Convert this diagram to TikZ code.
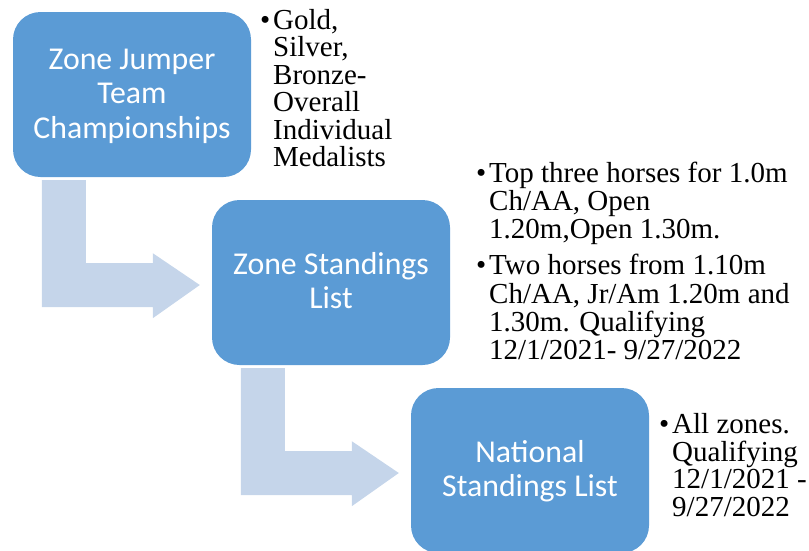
\documentclass[tikz,border=0pt]{standalone}
\usepackage{fontspec}
\setmainfont{Liberation Serif}
\newfontfamily\boxfont{Carlito}
\usetikzlibrary{calc}
\definecolor{boxblue}{HTML}{5B9BD5}
\definecolor{arrowblue}{HTML}{C5D5EA}
\newcommand{\bstrut}{\rule[-8.25pt]{0pt}{34.5pt}}
\newcommand{\lstrut}{\rule{0pt}{21pt}}
\newcommand{\bul}{\llap{•\hspace{3pt}}}
\newcommand{\bentarrow}[2]{%
  \fill[bentfill] ($(#1.south west)+(29,3)$) -- ($(#1.south west)+(73,3)$)
    -- ($(#1.south west)+(73,86)$) -- ($(#1.south west)+(140,86)$)
    -- ($(#1.south west)+(140,76)$) -- ($(#2.west)+(-12,2.5)$)
    -- ($(#1.south west)+(140,141)$) -- ($(#1.south west)+(140,130)$)
    -- ($(#1.south west)+(29,130)$) -- cycle;}
\begin{document}
\begin{tikzpicture}[x=1pt,y=-1pt,
  box/.style={fill=boxblue, rounded corners=27.5pt, minimum width=238pt,
    minimum height=165pt, inner sep=0pt, align=center, text=white,
    font=\boxfont\fontsize{31.8}{34.5}\selectfont},
  blist/.style={anchor=north west, inner sep=0pt, align=left},
  bentfill/.style={fill=arrowblue}]
\useasboundingbox (0,0) rectangle (809,550);
\clip (0,0) rectangle (809,550);
\node[box] (b1) at (132,94.5) {\bstrut Zone Jumper\\\bstrut Team\\\bstrut Championships};
\node[box] (b2) at (331,282.5) {\bstrut Zone Standings\\\bstrut List};
\node[box] (b3) at (530,470.5) {\bstrut National\\\bstrut Standings List};
\bentarrow{b1}{b2}
\bentarrow{b2}{b3}
\node[blist, font=\fontsize{29}{27.5}\selectfont] (l1) at (273,8)
  {\lstrut\bul Gold,\\Silver,\\Bronze-\\Overall\\Individual\\Medalists};
\node[blist, font=\fontsize{29}{28.3}\selectfont] (l2) at (489,161)
  {\lstrut\bul Top three horses for 1.0m\\Ch/AA, Open\\1.20m,Open 1.30m.\\[7.7pt]
   \bul Two horses from 1.10m\\Ch/AA, Jr/Am 1.20m and\\1.30m. Qualifying\\12/1/2021- 9/27/2022};
\node[blist, font=\fontsize{29}{27.8}\selectfont] (l3) at (672,412)
  {\lstrut\bul All zones.\\Qualifying\\12/1/2021 -\\9/27/2022};
\end{tikzpicture}
\end{document}
